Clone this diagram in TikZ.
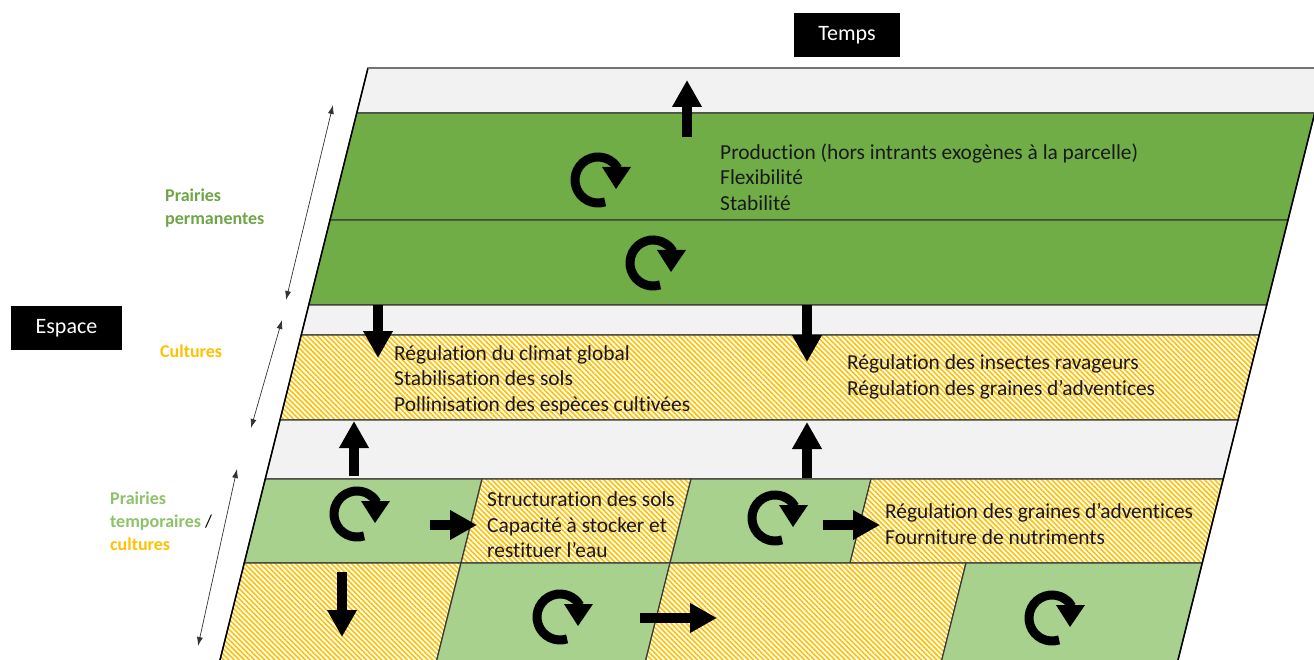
\documentclass[tikz,border=0pt]{standalone}
\usepackage{fontspec}
\setmainfont{Carlito}[Ligatures=NoCommon]
\usetikzlibrary{arrows.meta,patterns.meta}
\definecolor{dkgreen}{HTML}{70AD47}
\definecolor{ltgreen}{HTML}{A9D18E}
\definecolor{bandgray}{HTML}{F2F2F2}
\definecolor{hatchc}{HTML}{FFC000}
\definecolor{edgec}{HTML}{3A3A3A}
\definecolor{ppgreen}{HTML}{6FA548}
\definecolor{ptgreen}{HTML}{8EC26A}
\definecolor{cultc}{HTML}{FFC000}
\tikzset{
  band/.style={draw=edgec, line width=1.2pt},
  grayband/.style={band, fill=bandgray},
  dkband/.style={band, fill=dkgreen},
  ltcell/.style={band, fill=ltgreen},
  hatchcell/.style={band, preaction={fill=white},
     pattern={Lines[angle=-45,distance=3.6pt,line width=1.6pt]}, pattern color=hatchc},
  barrow/.style={line width=9.5pt, -{Triangle[width=28pt,length=27pt]}},
  dblarrow/.style={line width=0.7pt, color=black!80, {Latex[length=9pt,width=6pt]}-{Latex[length=9pt,width=6pt]}},
  body/.style={anchor=west, align=left, inner sep=0pt, font=\fontsize{21.4}{25.5}\selectfont, text=black!90},
  lab/.style={anchor=west, align=left, inner sep=0pt, font=\fontsize{18}{23}\selectfont\bfseries},
  blackbox/.style={fill=black, text=white, inner sep=0pt, font=\fontsize{22}{26}\selectfont},
  cyc/.pic={
    \draw[line width=9pt] (288:23pt) arc[start angle=288,end angle=30,radius=23pt];
    \fill (4pt,13pt) -- (33pt,13pt) -- (18pt,-9pt) -- cycle;
  }
}
\begin{document}
\begin{tikzpicture}[x=1pt,y=-1pt]
\useasboundingbox (0,0) rectangle (1314,660);
\begin{scope}
\clip (0,0) rectangle (1314,660);
% bands
\path[grayband] (368,68) -- (1326,68) -- (1314.75,113) -- (356.75,113) -- cycle;
\path[dkband] (356.75,113) -- (1314.75,113) -- (1288,220) -- (330,220) -- cycle;
\path[dkband] (330,220) -- (1288,220) -- (1266.75,305) -- (308.75,305) -- cycle;
\path[grayband] (308.75,305) -- (1266.75,305) -- (1259.25,335) -- (301.25,335) -- cycle;
\path[hatchcell] (301.25,335) -- (1259.25,335) -- (1238,420) -- (280,420) -- cycle;
\path[grayband] (280,420) -- (1238,420) -- (1223.25,479) -- (265.25,479) -- cycle;
% row 1
\path[ltcell] (265.25,479) -- (482,479) -- (461,563) -- (244.25,563) -- cycle;
\path[hatchcell] (482,479) -- (691,479) -- (670,563) -- (461,563) -- cycle;
\path[ltcell] (691,479) -- (871,479) -- (850,563) -- (670,563) -- cycle;
\path[hatchcell] (871,479) -- (1223.25,479) -- (1202.25,563) -- (850,563) -- cycle;
% row 2
\path[hatchcell] (244.25,563) -- (461,563) -- (435.5,665) -- (218.75,665) -- cycle;
\path[ltcell] (461,563) -- (670,563) -- (644.5,665) -- (435.5,665) -- cycle;
\path[hatchcell] (670,563) -- (966,563) -- (940.5,665) -- (644.5,665) -- cycle;
\path[ltcell] (966,563) -- (1202.25,563) -- (1176.75,665) -- (940.5,665) -- cycle;
% outer edges
\draw[black, line width=1.5pt] (368,68) -- (218.75,665);
\draw[black, line width=1.5pt] (1326,68) -- (1176.75,665);
\draw[black!55, line width=1.4pt] (368,68) -- (1326,68);
\end{scope}

% cyclic arrows
\pic at (598,180) {cyc};
\pic at (653,263) {cyc};
\pic at (357,514) {cyc};
\pic at (775,518) {cyc};
\pic at (560,617) {cyc};
\pic at (1052,618) {cyc};

% block arrows
\coordinate (u1a) at (687,137); \coordinate (u1b) at (687,80);
\coordinate (d1a) at (378,305); \coordinate (d1b) at (378,358);
\coordinate (d2a) at (807,305); \coordinate (d2b) at (807,362);
\coordinate (u2a) at (354,476); \coordinate (u2b) at (354,421);
\coordinate (u3a) at (807,478); \coordinate (u3b) at (807,422);
\coordinate (r1a) at (430,525); \coordinate (r1b) at (477,525);
\coordinate (r2a) at (823,525); \coordinate (r2b) at (880,525);
\coordinate (d3a) at (342,572); \coordinate (d3b) at (342,637);
\coordinate (r3a) at (640,618); \coordinate (r3b) at (717,618);
\draw[barrow] (u1a) -- (u1b);
\draw[barrow] (d1a) -- (d1b);
\draw[barrow] (d2a) -- (d2b);
\draw[barrow] (u2a) -- (u2b);
\draw[barrow] (u3a) -- (u3b);
\draw[barrow] (r1a) -- (r1b);
\draw[barrow] (r2a) -- (r2b);
\draw[barrow] (d3a) -- (d3b);
\draw[barrow] (r3a) -- (r3b);

% side double arrows
\coordinate (s1a) at (333,105); \coordinate (s1b) at (286,300);
\coordinate (s2a) at (282,320); \coordinate (s2b) at (251,428);
\coordinate (s3a) at (237,469); \coordinate (s3b) at (198,646);
\draw[dblarrow] (s1a) -- (s1b);
\draw[dblarrow] (s2a) -- (s2b);
\draw[dblarrow] (s3a) -- (s3b);

% black title boxes
\node[blackbox, minimum width=106pt, minimum height=44pt] (temps) at (847,35) {Temps};
\node[blackbox, minimum width=111pt, minimum height=44pt] (espace) at (66.5,328) {Espace};

% side labels
\node[lab, text=ppgreen] (pp) at (165,208) {Prairies\\permanentes};
\node[lab, text=cultc] (cu) at (160,351) {Cultures};
\node[lab] (pt) at (110,521) {\textcolor{ptgreen}{Prairies}\\\textcolor{ptgreen}{temporaires} {\mdseries\color{black}/}\\\textcolor{cultc}{cultures}};

% body texts
\node[body] (prod) at (720,177) {Production (hors intrants exogènes à la parcelle)\\Flexibilité\\Stabilité};
\node[body] (clim) at (394,380) {Régulation du climat global\\Stabilisation des sols\\Pollinisation des espèces cultivées};
\node[body] (ins) at (847,377) {Régulation des insectes ravageurs\\Régulation des graines d’adventices};
\node[body] (str) at (487,525) {Structuration des sols\\Capacité à stocker et\\restituer l’eau};
\node[body] (gra) at (885,524) {Régulation des graines d’adventices\\Fourniture de nutriments};
\end{tikzpicture}
\end{document}
